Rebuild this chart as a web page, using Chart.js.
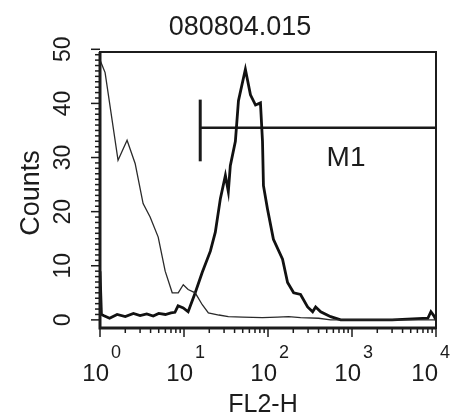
<!DOCTYPE html>
<html>
<head>
<meta charset="utf-8">
<script src="https://cdn.jsdelivr.net/npm/chart.js@4.4.1/dist/chart.umd.min.js"></script>
<style>
  html, body { margin: 0; padding: 0; background: #fff; }
  #wrap { position: relative; width: 459px; height: 418px; }
</style>
</head>
<body>
<div id="wrap"><canvas id="chart"></canvas></div>
<script>
// control histogram (thin line)
const thinX = [1, 1.09, 1.15, 1.64, 2.1, 2.62, 3.26, 3.95, 4.93, 5.97, 7.24, 8.54, 9.8, 11.2, 13.6, 16.5, 19.5, 26, 33.7, 50, 86, 130, 176, 244, 400, 557, 795, 10000]
const thinY = [48, 46.6, 45.7, 29.5, 33.2, 28.9, 21.5, 19.0, 15.3, 9.0, 5.0, 5.0, 6.5, 5.6, 5.0, 2.8, 1.3, 0.9, 0.6, 0.5, 0.4, 0.5, 0.6, 0.4, 0.3, 0, 0, 0]

// stained histogram (thick line)
const thickX = [1, 1.04, 1.1, 1.3, 1.6, 2.0, 2.5, 3.0, 3.6, 4.3, 5.0, 6.0, 7.0, 7.8, 8.5, 9.8, 11.2, 13.6, 16.5, 20.6, 23.6, 27.1, 31.1, 33.7, 35.6, 40.9, 44.5, 53.8, 61.8, 71, 81.3, 86, 88.3, 98.6, 116, 149, 171, 202, 244, 296, 340, 369, 424, 557, 734, 1000, 3000, 8000, 8700, 9400, 10000]
const thickY = [9, 1, 0.8, 0.3, 1.0, 0.6, 1.2, 0.8, 1.1, 0.7, 1.2, 1.0, 1.3, 1.4, 2.6, 2.2, 1.5, 5.0, 8.8, 12.7, 16.2, 22.4, 26.7, 23.7, 28.5, 33.0, 40.5, 46.3, 41.6, 39.7, 40.1, 33.0, 24.8, 20.5, 14.9, 11.2, 6.9, 5.0, 4.7, 2.4, 1.5, 2.4, 1.5, 0.6, 0, 0, 0, 0.3, 1.5, 0.8, 0]

// M1 marker gate
const markerStart = 15.6
const markerEnd = 10000
const markerLevel = 35.5
const markerBar = [29.3, 40.7]

const yTicks = [0, 10, 20, 30, 40, 50]
const xDecades = [0, 1, 2, 3, 4]

const title = '080804.015'
const xTitle = 'FL2-H'
const yTitle = 'Counts'
const markerLabel = 'M1'

const FONT = '"Liberation Sans", Arial, sans-serif'
const INK = '#1c1c1c'

const toPoints = (xs, ys) => xs.map((v, i) => ({ x: v, y: ys[i] }))

const framePlugin = {
  id: 'facsFrame',
  afterDraw(chart) {
    const { ctx, chartArea: a, scales: { x, y } } = chart
    ctx.save()
    ctx.strokeStyle = INK
    ctx.fillStyle = INK

    // plot box
    ctx.lineWidth = 2
    ctx.strokeRect(a.left, a.top, a.right - a.left, a.bottom - a.top)
    ctx.lineWidth = 3
    ctx.beginPath()
    ctx.moveTo(a.left, a.top)
    ctx.lineTo(a.left, a.bottom)
    ctx.lineTo(a.right, a.bottom)
    ctx.stroke()

    // y ticks, one per count
    ctx.lineWidth = 1.5
    for (let v = 0; v <= 50; v++) {
      const py = y.getPixelForValue(v)
      const len = v % 10 === 0 ? 9 : 5
      ctx.beginPath()
      ctx.moveTo(a.left, py)
      ctx.lineTo(a.left - len, py)
      ctx.stroke()
    }

    // x ticks, log minors
    for (let d = 0; d < 4; d++) {
      for (let m = 1; m <= 9; m++) {
        const px = x.getPixelForValue(m * Math.pow(10, d))
        const len = m === 1 ? 9 : 5
        ctx.beginPath()
        ctx.moveTo(px, a.bottom)
        ctx.lineTo(px, a.bottom + len)
        ctx.stroke()
      }
    }
    const pxEnd = x.getPixelForValue(10000)
    ctx.beginPath()
    ctx.moveTo(pxEnd, a.bottom)
    ctx.lineTo(pxEnd, a.bottom + 9)
    ctx.stroke()

    // y tick labels (rotated)
    ctx.font = '23px ' + FONT
    ctx.textAlign = 'center'
    ctx.textBaseline = 'middle'
    yTicks.forEach(v => {
      ctx.save()
      ctx.translate(64, y.getPixelForValue(v))
      ctx.rotate(-Math.PI / 2)
      ctx.fillText(String(v), 0, 0)
      ctx.restore()
    })

    // x tick labels 10^n
    xDecades.forEach((d, i) => {
      const shift = i === xDecades.length - 1 ? -7 : 0
      const px = x.getPixelForValue(Math.pow(10, d)) + shift
      ctx.font = '24px ' + FONT
      ctx.textAlign = 'right'
      ctx.fillText('10', px + 9, 374)
      ctx.font = '18px ' + FONT
      ctx.textAlign = 'left'
      ctx.fillText(String(d), px + 11, 353)
    })

    // titles
    ctx.textAlign = 'center'
    ctx.font = '27px ' + FONT
    ctx.fillText(title, 240, 28)
    ctx.font = '25px ' + FONT
    ctx.fillText(xTitle, 263, 405)
    ctx.save()
    ctx.translate(32, 193)
    ctx.rotate(-Math.PI / 2)
    ctx.font = '27px ' + FONT
    ctx.fillText(yTitle, 0, 0)
    ctx.restore()

    // marker label
    ctx.font = '28px ' + FONT
    ctx.fillText(markerLabel, 346, 158)

    ctx.restore()
  }
}

const ctx = document.getElementById('chart').getContext('2d')
new Chart(ctx, {
  type: 'line',
  data: {
    datasets: [
      {
        data: toPoints(thinX, thinY),
        borderColor: '#2a2a2a',
        borderWidth: 1.3,
        pointRadius: 0,
        tension: 0
      },
      {
        data: toPoints(thickX, thickY),
        borderColor: '#111',
        borderWidth: 2.8,
        pointRadius: 0,
        tension: 0
      },
      {
        data: [{ x: markerStart, y: markerLevel }, { x: markerEnd, y: markerLevel }],
        borderColor: '#1a1a1a',
        borderWidth: 2.5,
        pointRadius: 0
      },
      {
        data: [{ x: markerStart, y: markerBar[0] }, { x: markerStart, y: markerBar[1] }],
        borderColor: '#1a1a1a',
        borderWidth: 3,
        pointRadius: 0
      }
    ]
  },
  options: {
    responsive: true,
    maintainAspectRatio: false,
    animation: false,
    layout: { padding: { left: 100, right: 23, top: 52, bottom: 90 } },
    plugins: {
      legend: { display: false },
      tooltip: { enabled: false },
      title: { display: false }
    },
    scales: {
      x: { type: 'logarithmic', min: 1, max: 10000, display: false },
      y: { type: 'linear', min: -1.5, max: 49.5, display: false }
    }
  },
  plugins: [framePlugin]
})
</script>
</body>
</html>
